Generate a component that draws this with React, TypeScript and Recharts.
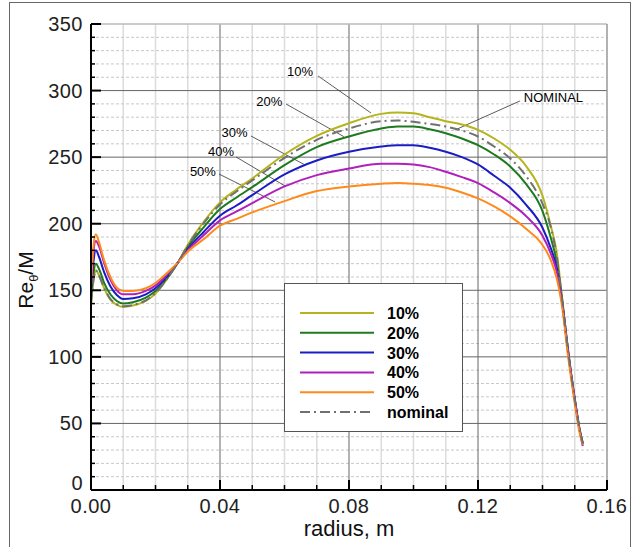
import React from 'react';
import { LineChart, Line, XAxis, YAxis, ReferenceLine, ReferenceDot, Legend } from 'recharts';

const radius = [0, 0.0008, 0.0015, 0.0025, 0.004, 0.006, 0.008, 0.01, 0.013, 0.017, 0.02, 0.024, 0.027, 0.03, 0.035, 0.04, 0.045, 0.05, 0.06, 0.07, 0.08, 0.09, 0.095, 0.1, 0.105, 0.11, 0.115, 0.12, 0.125, 0.13, 0.135, 0.14, 0.1425, 0.1445, 0.146, 0.148, 0.15, 0.1515, 0.1525];
const pct10 = [140, 158, 165, 161, 152, 143, 139, 137.5, 138.5, 142, 147.5, 160, 171, 184, 201.5, 216, 225.5, 234, 252, 266, 275.5, 282.5, 283.5, 283, 280, 277, 274.5, 270.5, 264, 255.5, 243, 221, 199, 177, 146, 104, 69, 46, 35];
const pct20 = [143, 163, 170, 166, 156, 147, 142, 140, 141, 144.5, 149.5, 160.5, 171, 182.5, 197.5, 211, 219.5, 227.5, 244, 257.5, 265.5, 271.5, 273, 273, 271, 268, 264, 259, 252, 243, 229.5, 209.5, 190, 170, 144, 103, 68, 45.5, 35];
const pct30 = [147, 172, 180, 175, 164, 153, 146.5, 143.5, 144, 147, 151.5, 161.5, 171, 181, 194, 206, 213.5, 221.5, 237, 247.5, 254, 258, 259, 259, 257, 254, 250, 244.5, 236, 227, 214, 197, 182, 166, 143, 102.5, 68, 45, 34.5];
const pct40 = [151, 180, 187, 183, 171, 158, 150, 147, 147, 149.5, 153.5, 163, 171, 180, 191.5, 202.5, 209, 215.5, 228, 236.5, 241.5, 245, 245, 244.5, 242.5, 239, 235, 230.5, 223.5, 215.5, 205.5, 191, 178, 163, 142, 102, 67.5, 45, 33];
const pct50 = [155, 184, 192, 186, 173, 160, 152, 149.5, 149.5, 151.5, 155.5, 164, 171, 179, 188.5, 198.5, 203.5, 208.5, 217, 224.5, 228, 230, 230.5, 230, 229, 227, 223.5, 219, 213, 205.5, 196, 184, 173, 158, 139, 99, 65, 43, 34];
const nominal = [140, 158, 165, 161, 152, 143.5, 139.5, 138, 139, 142.5, 148, 160, 171, 183.5, 200.5, 214.5, 224, 232.5, 249.5, 263, 271.5, 277, 277.5, 276.5, 275, 273, 270, 265.5, 258, 249, 235.5, 215, 198, 174, 145, 103.5, 68.5, 46, 35];

const seriesKeys = ['s10', 's20', 's30', 's40', 's50', 'nom'];
const seriesNames = ['10%', '20%', '30%', '40%', '50%', 'nominal'];
const seriesColors = ['#b4b41c', '#1f7a1f', '#1c1cc4', '#b020bc', '#ff8a1c', '#707070'];

const xTicks = [0, 0.01, 0.02, 0.03, 0.04, 0.05, 0.06, 0.07, 0.08, 0.09, 0.1, 0.11, 0.12, 0.13, 0.14, 0.15, 0.16];
const yTicks = [0, 10, 20, 30, 40, 50, 60, 70, 80, 90, 100, 110, 120, 130, 140, 150, 160, 170, 180, 190, 200, 210, 220, 230, 240, 250, 260, 270, 280, 290, 300, 310, 320, 330, 340, 350];
const xMajor = [0.04, 0.08, 0.12];
const yMajor = [50, 100, 150, 200, 250, 300];
const xMinor = [0.01, 0.02, 0.03, 0.05, 0.06, 0.07, 0.09, 0.1, 0.11, 0.13, 0.14, 0.15];
const yMinor = yTicks.filter((v) => v % 50 !== 0);

const annotations = [
  { label: '10%', tx: 0.0648, ty: 314.7, x1: 0.0704, y1: 311, x2: 0.0868, y2: 283.2 },
  { label: '20%', tx: 0.0553, ty: 291.8, x1: 0.0605, y1: 289.9, x2: 0.0784, y2: 265.4 },
  { label: '30%', tx: 0.0445, ty: 268.5, x1: 0.0496, y1: 265.9, x2: 0.0664, y2: 244.1 },
  { label: '40%', tx: 0.0403, ty: 254.2, x1: 0.045, y1: 250.1, x2: 0.0602, y2: 228.3 },
  { label: '50%', tx: 0.0347, ty: 239.6, x1: 0.0397, y1: 237.3, x2: 0.0571, y2: 216.3 },
  { label: 'NOMINAL', tx: 0.1434, ty: 294.8, x1: 0.133, y1: 292.2, x2: 0.1129, y2: 270.4 },
];

const data = radius.map((r, i) => ({
  r,
  s10: pct10[i],
  s20: pct20[i],
  s30: pct30[i],
  s40: pct40[i],
  s50: pct50[i],
  nom: nominal[i],
}));

const FONT = '"Liberation Sans", Arial, Helvetica, sans-serif';

const XTick = (props: any) => {
  const { x, y, payload } = props;
  const v = payload.value as number;
  const major = Math.round(v * 100) % 4 === 0;
  return (
    <g>
      <line x1={x} x2={x} y1={y} y2={y - (major ? 10 : 5)} stroke="#000" strokeWidth={major ? 2 : 1.5} />
      {major && (
        <text x={x} y={y + 23} textAnchor="middle" fontSize={20} fontFamily={FONT} fill="#222" letterSpacing={0.5}>
          {v.toFixed(2)}
        </text>
      )}
    </g>
  );
};

const YTick = (props: any) => {
  const { x, y, payload } = props;
  const v = payload.value as number;
  const major = v % 50 === 0;
  return (
    <g>
      <line x1={x} x2={x + (major ? 10 : 4)} y1={y} y2={y} stroke="#000" strokeWidth={major ? 2 : 1.5} />
      {major && (
        <text x={x - 8} y={v === 0 ? y : y + 7} textAnchor="end" fontSize={20} fontFamily={FONT} fill="#222" letterSpacing={0.5}>
          {v}
        </text>
      )}
    </g>
  );
};

const YLabel = (props: any) => {
  const vb = props.viewBox || { x: 0, y: 24, width: 91, height: 466 };
  const cx = 33;
  const cy = vb.y + vb.height / 2 + 23;
  return (
    <text transform={`translate(${cx},${cy}) rotate(-90)`} textAnchor="middle" fontSize={21} fontFamily={FONT} fill="#111">
      Re
      <tspan fontSize={13} dy={5}>θ</tspan>
      <tspan dy={-5}>/M</tspan>
    </text>
  );
};

const LegendBox = (props: any) => {
  const payload = (props.payload || []) as any[];
  return (
    <div style={{ width: 177, height: 147, border: '1px solid #555', background: '#fff' }}>
      <svg width={177} height={147}>
        {payload.map((p: any, i: number) => {
          const yy = 29 + i * 19.8;
          return (
            <g key={i}>
              <line
                x1={15}
                x2={89}
                y1={yy}
                y2={yy}
                stroke={p.color}
                strokeWidth={2}
                strokeDasharray={p.payload && p.payload.strokeDasharray ? p.payload.strokeDasharray : undefined}
              />
              <text x={102} y={yy + 6} fontSize={16} fontWeight="bold" fontFamily={FONT} fill="#000">
                {p.value}
              </text>
            </g>
          );
        })}
      </svg>
    </div>
  );
};

export default function App() {
  return (
    <div style={{ position: 'absolute', left: 0, top: 0, width: 634, height: 547, background: '#fff', overflow: 'hidden' }}>
      <div style={{ position: 'absolute', left: 9, top: 2, width: 620, height: 600, border: '1px solid #666' }} />
      <div style={{ position: 'absolute', left: 0, top: 0 }}>
        <LineChart width={634} height={547} data={data} margin={{ top: 24, right: 27, left: 0, bottom: 0 }}>
          {xMinor.map((v) => (
            <ReferenceLine key={'xm' + v} x={v} stroke="#dcdcdc" strokeWidth={1.5} />
          ))}
          {yMinor.map((v) => (
            <ReferenceLine key={'ym' + v} y={v} stroke="#c8c8c8" strokeWidth={1} strokeDasharray="3 2" />
          ))}
          {xMajor.map((v) => (
            <ReferenceLine key={'xM' + v} x={v} stroke="#666" strokeWidth={1} />
          ))}
          {yMajor.map((v) => (
            <ReferenceLine key={'yM' + v} y={v} stroke="#666" strokeWidth={1} />
          ))}
          <ReferenceLine y={350} stroke="#bbb" strokeWidth={1.5} />
          <ReferenceLine x={0.16} stroke="#999" strokeWidth={1.5} />
          <XAxis
            dataKey="r"
            type="number"
            domain={[0, 0.16]}
            ticks={xTicks}
            interval={0}
            tick={<XTick />}
            tickLine={false}
            tickSize={0}
            tickMargin={0}
            height={57}
            axisLine={{ stroke: '#000', strokeWidth: 2 }}
            allowDataOverflow
            label={{ value: 'radius, m', position: 'insideBottom', offset: 11, fontSize: 22, fontFamily: FONT, fill: '#111' }}
          />
          <YAxis
            type="number"
            domain={[0, 350]}
            ticks={yTicks}
            interval={0}
            tick={<YTick />}
            tickLine={false}
            tickSize={0}
            tickMargin={0}
            width={91}
            axisLine={{ stroke: '#000', strokeWidth: 2 }}
            allowDataOverflow
            label={<YLabel />}
          />
          {annotations.map((a) => (
            <ReferenceLine
              key={'al' + a.label}
              segment={[{ x: a.x1, y: a.y1 }, { x: a.x2, y: a.y2 }]}
              stroke="#333"
              strokeWidth={0.8}
            />
          ))}
          {annotations.map((a) => (
            <ReferenceDot
              key={'at' + a.label}
              x={a.tx}
              y={a.ty}
              r={0}
              fill="none"
              stroke="none"
              label={{ value: a.label, position: 'center', fontSize: 13, fontFamily: FONT, fill: '#000' }}
            />
          ))}
          {seriesKeys.map((k, i) => (
            <Line
              key={k}
              dataKey={k}
              name={seriesNames[i]}
              type="monotone"
              stroke={seriesColors[i]}
              strokeWidth={2}
              strokeDasharray={k === 'nom' ? '10 4 2 4' : undefined}
              dot={false}
              isAnimationActive={false}
            />
          ))}
          <Legend
            layout="vertical"
            align="center"
            verticalAlign="middle"
            content={<LegendBox />}
            wrapperStyle={{ left: 284, top: 283, width: 179, height: 149 }}
          />
        </LineChart>
      </div>
    </div>
  );
}
